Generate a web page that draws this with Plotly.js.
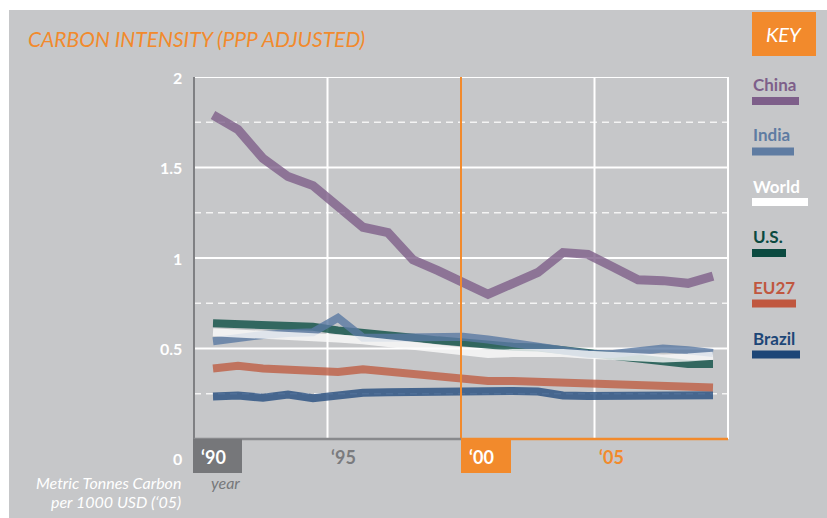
<!DOCTYPE html>
<html>
<head>
<meta charset="utf-8">
<script src="https://cdn.plot.ly/plotly-3.0.1.min.js"></script>
<style>
html,body{margin:0;padding:0;background:#fff;}
#chart{width:827px;height:518px;}
</style>
</head>
<body>
<div id="chart"></div>
<script>
// ---- data ----
const years = [1990,1991,1992,1993,1994,1995,1996,1997,1998,1999,2000,2001,2002,2003,2004,2005,2006,2007,2008,2009,2010];
const china  = [1.79,1.71,1.55,1.45,1.40,1.29,1.17,1.14,0.99,0.93,0.86,0.80,0.86,0.92,1.03,1.02,0.95,0.88,0.875,0.86,0.90];
const india  = [0.54,0.56,0.575,0.585,0.59,0.67,0.56,0.56,0.565,0.565,0.565,0.55,0.53,0.51,0.49,0.47,0.47,0.48,0.50,0.49,0.475];
const world  = [0.59,0.585,0.58,0.575,0.565,0.555,0.545,0.53,0.515,0.50,0.485,0.47,0.475,0.48,0.475,0.465,0.455,0.45,0.445,0.45,0.46];
const us     = [0.64,0.635,0.63,0.625,0.62,0.60,0.59,0.575,0.56,0.545,0.53,0.52,0.51,0.505,0.49,0.475,0.46,0.445,0.43,0.415,0.415];
const eu27   = [0.39,0.405,0.39,0.385,0.385,0.37,0.385,0.37,0.355,0.34,0.325,0.32,0.32,0.315,0.31,0.305,0.30,0.295,0.29,0.29,0.285];
const brazil = [0.235,0.24,0.228,0.245,0.225,0.24,0.255,0.258,0.26,0.265,0.27,0.27,0.265,0.262,0.24,0.238,0.237,0.237,0.238,0.24,0.242];

const seriesNames = ["China","India","World","U.S.","EU27","Brazil"];
const yTickVals = [0.5, 1, 1.5, 2];
const yTickText = ["0.5", "1", "1.5", "2"];
const dashedVals = [0.25, 0.75, 1.25, 1.75];
const xTickText = ["\u201890", "\u201895", "\u201800", "\u201805"];
const title = "CARBON INTENSITY (PPP ADJUSTED)";

// ---- styling ----
const FONT = "Lato, 'Open Sans', sans-serif";
const ORANGE = "#f28a2c";
const BG = "#c6c7c9";
const lineColors = {China:"#7e5f8a", India:"#5a79a3", World:"#fbfbfb", "U.S.":"#0c4f45", EU27:"#be5e43", Brazil:"#254e80"};
const keyColors  = {China:"#7e5f8a", India:"#5f7ca2", World:"#ffffff", "U.S.":"#0b4a40", EU27:"#c0573f", Brazil:"#1d4677"};
const seriesData = {China:china, India:india, World:world, "U.S.":us, EU27:eu27, Brazil:brazil};

// plot area in pixels
const L = 194, R = 728, T = 77, B = 439;
const px = x => (x - L) / (R - L);
const py = y => (B - y) / (B - T);

const drawOrder = ["Brazil","EU27","U.S.","India","World","China"];
const traces = drawOrder.map(n => ({
  type: "scatter", mode: "lines", x: years, y: seriesData[n], name: n,
  line: {color: lineColors[n], width: n === "China" ? 9 : 8, shape: "linear"},
  opacity: 0.8, hoverinfo: "skip", showlegend: false
}));

const shapes = [];
// gray panel
shapes.push({type:"rect", xref:"paper", yref:"paper", x0:px(9), x1:px(827), y0:py(518), y1:py(10),
  fillcolor:BG, line:{width:0}, layer:"below"});
// solid horizontal gridlines
yTickVals.forEach(v => shapes.push({type:"line", xref:"paper", yref:"y", x0:0, x1:1, y0:v, y1:v,
  line:{color:"#ffffff", width:2}, layer:"below"}));
// dashed gridlines
dashedVals.forEach(v => shapes.push({type:"line", xref:"paper", yref:"y", x0:0, x1:1, y0:v, y1:v,
  line:{color:"#f4f4f4", width:1.5, dash:"7px,5px"}, layer:"below"}));
// vertical gridlines
[0.25, 0.75, 1].forEach(f => shapes.push({type:"line", xref:"paper", yref:"paper", x0:f, x1:f, y0:0, y1:1,
  line:{color:"#ffffff", width:2}, layer:"below"}));
// orange 2000 line (above)
shapes.push({type:"line", xref:"paper", yref:"paper", x0:0.5, x1:0.5, y0:0, y1:1,
  line:{color:ORANGE, width:2}, layer:"above"});
// axes
shapes.push({type:"line", xref:"paper", yref:"paper", x0:0, x1:0, y0:0, y1:1, line:{color:"#7f8083", width:2}, layer:"above"});
shapes.push({type:"line", xref:"paper", yref:"paper", x0:0, x1:0.5, y0:0, y1:0, line:{color:"#88898c", width:2.5}, layer:"above"});
shapes.push({type:"line", xref:"paper", yref:"paper", x0:0.5, x1:1, y0:0, y1:0, line:{color:ORANGE, width:2.5}, layer:"above"});
// year boxes
shapes.push({type:"rect", xref:"paper", yref:"paper", x0:px(193), x1:px(242), y0:py(473), y1:py(439),
  fillcolor:"#76777a", line:{width:0}, layer:"above"});
shapes.push({type:"rect", xref:"paper", yref:"paper", x0:px(461), x1:px(511), y0:py(473), y1:py(439),
  fillcolor:ORANGE, line:{width:0}, layer:"above"});
// KEY box
shapes.push({type:"rect", xref:"paper", yref:"paper", x0:px(752), x1:px(816), y0:py(56), y1:py(12),
  fillcolor:ORANGE, line:{width:0}, layer:"above"});

const annotations = [];
const ann = (text, x, y, opts) => annotations.push(Object.assign({
  text, xref:"paper", yref:"paper", x:px(x), y:py(y), showarrow:false,
  xanchor:"left", yanchor:"middle", font:{family:FONT, size:15, color:"#fff"}
}, opts || {}));

ann("<i>" + title + "</i>", 26, 38, {font:{family:FONT, size:21, color:ORANGE}});
ann("<i>KEY</i>", 784, 34, {xanchor:"center", font:{family:FONT, size:20, color:"#fff"}});

// y labels
yTickVals.forEach((v, i) => annotations.push({text:"<b>" + yTickText[i] + "</b>", xref:"paper", yref:"y",
  x:px(184), y:v, showarrow:false, xanchor:"right", yanchor:"middle",
  font:{family:FONT, size:16, color:"#fff"}}));
ann("<b>0</b>", 184, 458, {xanchor:"right", font:{family:FONT, size:16, color:"#fff"}});

// x labels
const xLabPos = [199, 329, 467, 597];
const xLabCol = ["#ffffff", "#7a7b7e", "#ffffff", ORANGE];
xTickText.forEach((t, i) => ann("<b>" + t + "</b>", xLabPos[i], 457, {font:{family:FONT, size:18, color:xLabCol[i]}}));
ann("<i>year</i>", 209, 482, {font:{family:FONT, size:16, color:"#77787b"}});
ann("<i>Metric Tonnes Carbon</i>", 183, 482, {xanchor:"right", font:{family:FONT, size:16, color:"#fff"}});
ann("<i>per 1000 USD (\u201805)</i>", 183, 501, {xanchor:"right", font:{family:FONT, size:16, color:"#fff"}});

// key entries
const keyTextY = [84, 134, 186, 236, 287, 338];
const keyBarY  = [101, 151.5, 202, 253, 303.5, 354.5];
const keyBarR  = [799, 794, 808, 786, 796, 800];
seriesNames.forEach((n, i) => {
  ann("<b>" + n + "</b>", 751, keyTextY[i], {font:{family:FONT, size:17, color:keyColors[n]}});
  shapes.push({type:"rect", xref:"paper", yref:"paper", x0:px(752), x1:px(keyBarR[i]),
    y0:py(keyBarY[i] + 4), y1:py(keyBarY[i] - 4), fillcolor:keyColors[n], line:{width:0}, layer:"above"});
});

const layout = {
  width: 827, height: 518,
  margin: {l: L, r: 827 - R, t: T, b: 518 - B, pad: 0},
  paper_bgcolor: "#ffffff", plot_bgcolor: "rgba(0,0,0,0)",
  xaxis: {range: [1990 - (213 - L) / 25, 2010 + (R - 713) / 25], showgrid: false, zeroline: false,
          showticklabels: false, ticks: "", showline: false, fixedrange: true},
  yaxis: {range: [0, 2], showgrid: false, zeroline: false, showticklabels: false, ticks: "",
          showline: false, tickvals: yTickVals, fixedrange: true},
  shapes, annotations, showlegend: false
};

Plotly.newPlot("chart", traces, layout, {displayModeBar: false, staticPlot: true});
</script>
</body>
</html>
